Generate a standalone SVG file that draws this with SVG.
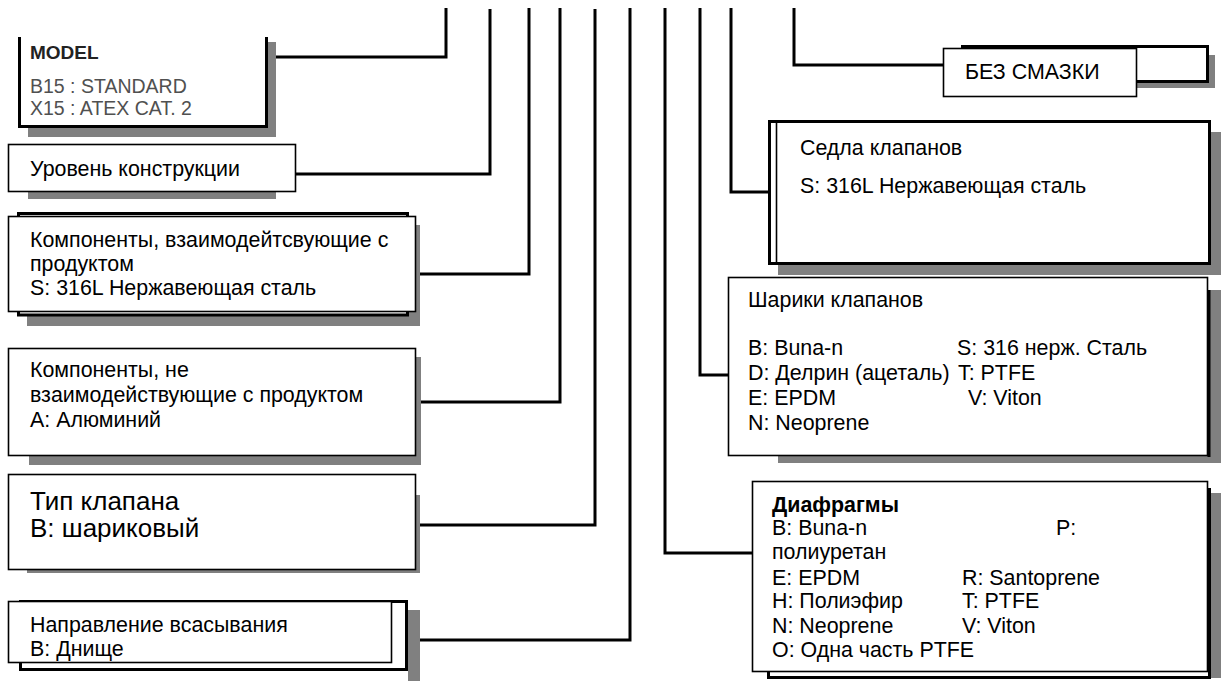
<svg xmlns="http://www.w3.org/2000/svg" width="1221" height="681" viewBox="0 0 1221 681">
<style>
text{font-family:"Liberation Sans",Arial,sans-serif;font-size:21.4px;fill:#000}
.sh{fill:#808080}
.bx{fill:#fff;stroke:#000;stroke-width:1.6}
.bk{fill:#fff;stroke:#000;stroke-width:3}
.ln{fill:none;stroke:#000;stroke-width:3}
.md{font-size:19px;font-weight:bold;fill:#222}
.gy{font-size:19.5px;fill:#505050}
.big{font-size:26px}
.b{font-weight:bold}
</style>
<rect width="1221" height="681" fill="#fff"/>
<g id="connectors">
<path class="ln" d="M446,8 V57 H268"/>
<path class="ln" d="M490,9 V174 H296"/>
<path class="ln" d="M529,8 V274 H416"/>
<path class="ln" d="M560,8 V402 H416"/>
<path class="ln" d="M595,9 V525 H416"/>
<path class="ln" d="M630,8 V640 H408"/>
<path class="ln" d="M665,8 V553 H752"/>
<path class="ln" d="M700,8 V375 H728"/>
<path class="ln" d="M731,8 V192 H768"/>
<path class="ln" d="M794,8 V65 H943"/>
</g>
<g id="model">
<rect class="sh" x="28" y="42" width="248" height="95"/>
<rect x="19" y="37" width="248" height="90" fill="#fff"/>
<path class="ln" d="M19.5,37 V126.5 H266.5 V37"/>
<text class="md" x="30" y="59">MODEL</text>
<text class="gy" x="30" y="93">B15 : STANDARD</text>
<text class="gy" x="30" y="115">X15 : ATEX CAT. 2</text>
</g>
<g id="level">
<rect class="sh" x="28" y="150" width="248" height="49"/>
<rect class="bx" x="8.5" y="144.5" width="287" height="47"/>
<text x="30" y="176">Уровень конструкции</text>
</g>
<g id="wetted">
<rect class="sh" x="27" y="225" width="393" height="101"/>
<rect class="bk" x="18.5" y="213.5" width="389" height="101.5"/>
<rect class="bx" x="8.5" y="216.5" width="407" height="95"/>
<text x="30" y="247">Компоненты, взаимодейтсвующие с</text>
<text x="30" y="271">продуктом</text>
<text x="30" y="295">S: 316L Нержавеющая сталь</text>
</g>
<g id="nonwetted">
<rect class="sh" x="29" y="357" width="392" height="108"/>
<rect class="bx" x="8.5" y="348.5" width="407" height="107"/>
<text x="30" y="377">Компоненты, не</text>
<text x="30" y="402">взаимодействующие с продуктом</text>
<text x="30" y="427">А: Алюминий</text>
</g>
<g id="valvetype">
<rect class="sh" x="27" y="495" width="393" height="78"/>
<rect class="bx" x="8.5" y="474.5" width="407" height="95"/>
<text class="big" x="30" y="510">Тип клапана</text>
<text class="big" x="30" y="537">В: шариковый</text>
</g>
<g id="suction">
<rect class="sh" x="408" y="610" width="12" height="71"/>
<rect class="bk" x="20.5" y="601.5" width="386" height="68"/>
<rect class="bx" x="8.5" y="601.5" width="383" height="61"/>
<text x="30" y="632">Направление всасывания</text>
<text x="30" y="656">В: Днище</text>
</g>
<g id="nolube">
<rect class="sh" x="968" y="55" width="247" height="33"/>
<rect class="bk" x="962.5" y="46.5" width="245" height="35"/>
<rect class="bx" x="943.5" y="48.5" width="193" height="48"/>
<text x="965" y="79">БЕЗ СМАЗКИ</text>
</g>
<g id="seats">
<rect class="sh" x="778" y="132" width="443" height="143"/>
<rect class="bk" x="769.5" y="121.5" width="440" height="142"/>
<path fill="none" stroke="#000" stroke-width="1.6" d="M776.5,121 V264"/>
<text x="800" y="155">Седла клапанов</text>
<text x="800" y="193">S: 316L Нержавеющая сталь</text>
</g>
<g id="balls">
<rect class="sh" x="778" y="290" width="443" height="173"/>
<rect class="bx" x="728.5" y="277.5" width="479" height="178"/>
<path class="ln" d="M1209,290 V457"/>
<text x="748" y="307">Шарики клапанов</text>
<text x="748" y="355">B: Buna-n</text>
<text x="957" y="355">S: 316 нерж. Сталь</text>
<text x="748" y="380">D: Делрин (ацеталь)</text>
<text x="958" y="380">T: PTFE</text>
<text x="748" y="405">E: EPDM</text>
<text x="968" y="405">V: Viton</text>
<text x="748" y="430">N: Neoprene</text>
</g>
<g id="diaphragms">
<rect class="sh" x="1000" y="493" width="221" height="185"/>
<rect class="bk" x="768.5" y="489.5" width="441" height="188"/>
<rect class="bx" x="752.5" y="481.5" width="455" height="190"/>
<text class="b" x="772" y="512">Диафрагмы</text>
<text x="772" y="535">B: Buna-n</text>
<text x="1056" y="535">P:</text>
<text x="772" y="559">полиуретан</text>
<text x="772" y="585">E: EPDM</text>
<text x="962" y="585">R: Santoprene</text>
<text x="772" y="608">H: Полиэфир</text>
<text x="962" y="608">T: PTFE</text>
<text x="772" y="633">N: Neoprene</text>
<text x="962" y="633">V: Viton</text>
<text x="772" y="657">O: Одна часть PTFE</text>
</g>
</svg>
